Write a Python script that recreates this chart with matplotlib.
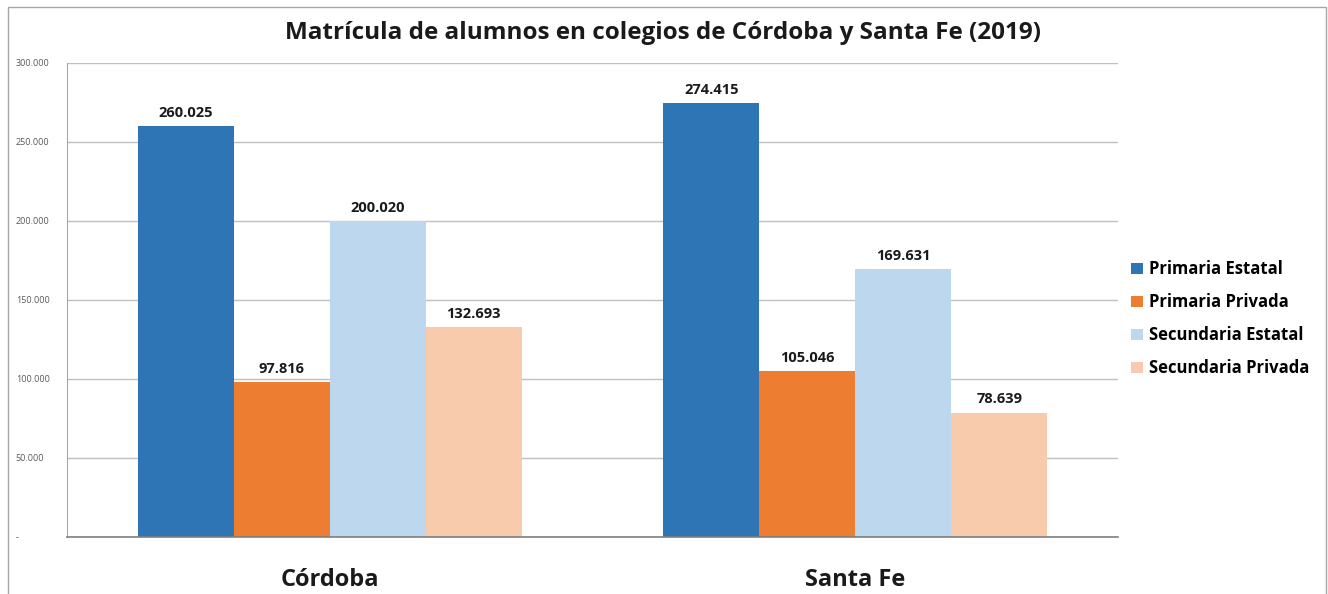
import numpy as np
import matplotlib
matplotlib.use("Agg")
import matplotlib.pyplot as plt
from matplotlib.patches import Rectangle
from matplotlib.ticker import FuncFormatter

# datos
provincias = ["Córdoba", "Santa Fe"]
series = ["Primaria Estatal", "Primaria Privada", "Secundaria Estatal", "Secundaria Privada"]
primaria_estatal = [260025, 274415]
primaria_privada = [97816, 105046]
secundaria_estatal = [200020, 169631]
secundaria_privada = [132693, 78639]
colores = ["#2E75B6", "#ED7D31", "#BDD7EE", "#F8CBAD"]

valores = [primaria_estatal, primaria_privada, secundaria_estatal, secundaria_privada]

plt.rcParams['font.family'] = ['Open Sans', 'DejaVu Sans']

def miles(v):
    if v == 0:
        return "-"
    return f"{int(v):,}".replace(",", ".")

fig = plt.figure(figsize=(13.28, 5.94), dpi=100)
ax = fig.add_axes([0.0505, 0.096, 0.7914, 0.798])

x = np.arange(len(provincias))
ancho = 0.1825
for i, (nombre, vals) in enumerate(zip(series, valores)):
    pos = x + (i - 1.5) * ancho
    barras = ax.bar(pos, vals, width=ancho, color=colores[i], label=nombre, zorder=2)
    for b, v in zip(barras, vals):
        ax.text(b.get_x() + b.get_width() / 2, v + 4000, miles(v),
                ha="center", va="bottom", fontsize=10.5, fontweight="bold", color="#1a1a1a")

ax.set_xlim(-0.5, 1.5)
ax.set_ylim(0, 300000)
ax.set_yticks(np.arange(0, 300001, 50000))
ax.yaxis.set_major_formatter(FuncFormatter(lambda v, p: miles(v)))
ax.tick_params(axis="y", length=0, labelsize=6.5, labelcolor="#595959", pad=37)
for lbl in ax.get_yticklabels():
    lbl.set_horizontalalignment("left")
ax.set_xticks(x)
ax.set_xticklabels(provincias, fontsize=17, fontweight="bold", color="#1a1a1a")
ax.tick_params(axis="x", length=0, pad=22)

ax.grid(axis="y", color="#BFBFBF", linewidth=1, zorder=0)
ax.spines["right"].set_visible(False)
ax.spines["top"].set_visible(False)
ax.spines["left"].set_color("#A6A6A6")
ax.spines["bottom"].set_color("#7F7F7F")
ax.spines["bottom"].set_linewidth(1.2)

fig.suptitle("Matrícula de alumnos en colegios de Córdoba y Santa Fe (2019)",
             x=0.499, y=0.965, fontsize=17.5, fontweight="bold", color="#1a1a1a")

ax.legend(loc="center left", bbox_to_anchor=(0.998, 0.46), frameon=False,
          prop={"weight": "bold", "size": 12}, handlelength=0.7, handleheight=0.7,
          handletextpad=0.4, labelspacing=0.9)

fig.patches.append(Rectangle((8 / 1328, -0.01), 1318 / 1328, 1 - 7 / 594 + 0.01,
                             transform=fig.transFigure, fill=False,
                             edgecolor="#A6A6A6", linewidth=1))

fig.savefig("out.png", dpi=100)
